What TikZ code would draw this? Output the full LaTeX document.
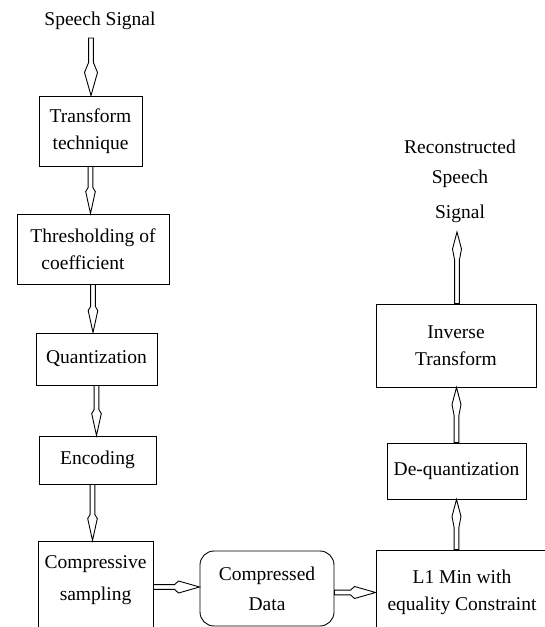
\documentclass[tikz,border=0pt]{standalone}
\usepackage{fontspec}
\setmainfont{Liberation Serif}
\usetikzlibrary{calc}
% #1 start, #2 tip, #3 head back distance, #4 widest-point distance, #5 head half width
\newcommand\darr[5]{%
  \path #1 coordinate (da) #2 coordinate (db);
  \path ($(db)!#3pt!(da)$) coordinate (hb) ($(db)!#4pt!(da)$) coordinate (hw);
  \draw[arr] ($(da)!2.4pt!90:(db)$) -- ($(hb)!2.4pt!90:(db)$) -- ($(hw)!#5pt!90:(db)$) -- (db)
    -- ($(hw)!#5pt!-90:(db)$) -- ($(hb)!2.4pt!-90:(db)$) -- ($(da)!2.4pt!-90:(db)$) -- cycle;
}
\begin{document}
\begin{tikzpicture}[x=1pt,y=-1pt,
  txt/.style={font=\fontsize{19.5}{27}\selectfont},
  box/.style={txt, draw, line width=0.9pt, fill=white, inner sep=0pt, align=center},
  lbl/.style={txt, inner sep=0pt, align=center},
  arr/.style={draw=black, line width=0.9pt, fill=white, line join=miter}
]
\useasboundingbox (0,0) rectangle (544,627);
% left column
\node[lbl] (ss) at (100,21) {Speech Signal};
\node[box, minimum width=103pt, minimum height=70pt] (tt) at (90.5,131) {Transform\\technique};
\node[box, minimum width=152pt, minimum height=70pt] (th) at (93,249) {Thresholding of\\coefficient\hspace*{20pt}};
\node[box, minimum width=121pt, minimum height=52pt] (qu) at (96.5,359) {Quantization};
\node[box, minimum width=117pt, minimum height=48pt] (en) at (97.5,460) {Encoding};
\node[box, minimum width=115pt, minimum height=92pt] (cs) at (95.5,587) {};
\node[lbl] (cst) at (95.5,580) {Compressive\\[5pt]sampling};
% bottom middle
\node[box, rounded corners=14pt, minimum width=134pt, minimum height=75pt] (cd) at (267,588.5) {Compressed\\[3pt]Data};
% right column
\node[box, minimum width=172pt, minimum height=84pt] (l1) at (462,592) {L1 Min with\\equality Constraint};
\node[box, minimum width=139pt, minimum height=56pt] (dq) at (456.5,471) {De-quantization};
\node[box, minimum width=160pt, minimum height=83pt] (inv) at (456,345.5) {Inverse\\Transform};
\node[lbl] (rs) at (460,181) {Reconstructed\\[3pt]Speech\\[8pt]Signal};
\coordinate (out) at (457,232);
% connectors
\darr{(91,38)}{(91,95.5)}{33}{23}{6.5}
\darr{(tt.south)}{(tt.south |- th.north)}{26}{22}{4.8}
\darr{(th.south)}{(th.south |- qu.north)}{26}{22}{4.8}
\darr{(qu.south)}{(qu.south |- en.north)}{26}{22}{4.8}
\darr{([xshift=-3pt]cs.north |- en.south)}{([xshift=-3pt]cs.north)}{26}{22}{4.8}
\darr{(cs.east)}{(cs.east -| cd.west)}{25}{21}{6}
\darr{([yshift=-4pt]cd.east)}{([yshift=-4pt]cd.east -| l1.west)}{25}{21}{6}
\darr{(l1.north -| dq.south)}{(dq.south)}{28}{17}{4.5}
\darr{(dq.north)}{(dq.north |- inv.south)}{28}{17}{4.5}
\darr{(inv.north -| out)}{(out)}{28}{17}{4.5}
\end{tikzpicture}
\end{document}
